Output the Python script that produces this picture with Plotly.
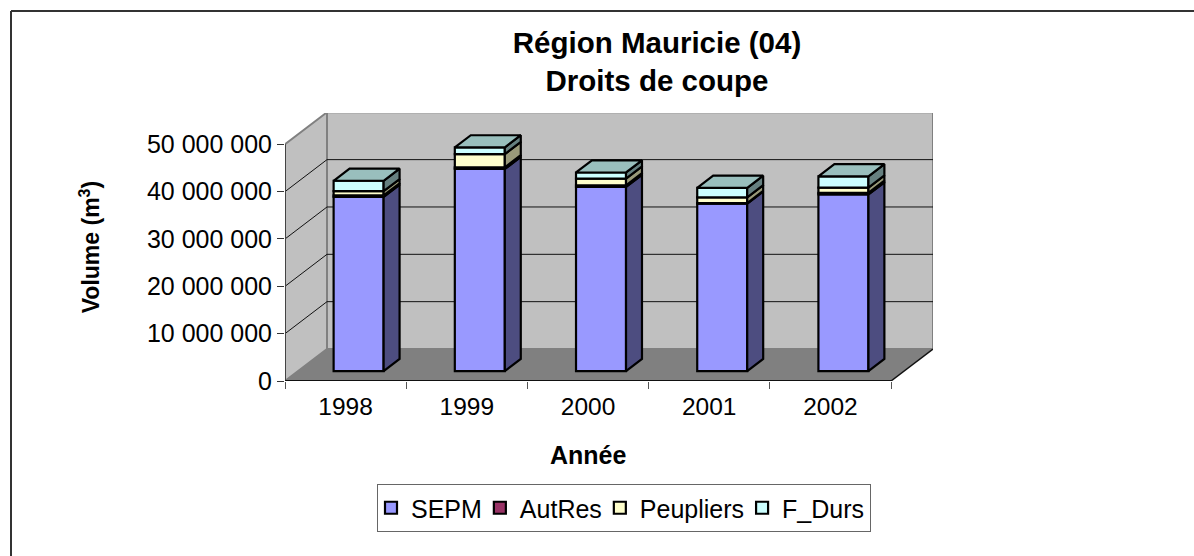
import plotly.graph_objects as go

years = ["1998", "1999", "2000", "2001", "2002"]
sepm = [36.8e6, 42.7e6, 38.9e6, 35.35e6, 37.3e6]
autres = [0.3e6, 0.35e6, 0.35e6, 0.15e6, 0.35e6]
peupliers = [0.9e6, 2.8e6, 1.4e6, 1.2e6, 1.1e6]
f_durs = [2.2e6, 1.4e6, 1.3e6, 2.0e6, 2.4e6]
y_ticks = [0, 10e6, 20e6, 30e6, 40e6, 50e6]
y_labels = ["0", "10 000 000", "20 000 000", "30 000 000", "40 000 000", "50 000 000"]
names = ["SEPM", "AutRes", "Peupliers", "F_Durs"]
front = ["#9999FF", "#993366", "#FFFFCC", "#CCFFFF"]
side = ["#4D4D80", "#4D1A33", "#999979", "#668080"]
top_color = "#99BFBD"

W, H = 1194, 556
X0, X1, Y0, YT = 285, 933, 381, 113      # plot rectangle, px
PX_CAT = 121.2
PX_VAL = 47.34 / 10e6
DX = 42 / PX_CAT
DY = 32 / PX_VAL
XMAX = (X1 - X0) / PX_CAT
YMAX = (Y0 - YT) / PX_VAL
D0, D1 = 0.31, 0.69
BAR_W = 50 / PX_CAT
EDGE = 2.2


def px(x):
    return x / W


def py(y):
    return 1 - y / H


def P(x, v, d):
    return x + d * DX, v + d * DY


n = len(years)
series = [sepm, autres, peupliers, f_durs]
fig = go.Figure()


def poly(pts, fill, line=None, w=0):
    path = "M" + "L".join(f"{a},{b}" for a, b in pts) + "Z"
    return dict(type="path", path=path, xref="x", yref="y", fillcolor=fill, layer="below",
                line=dict(color=line or fill, width=w))


def seg(a, b, color, w):
    return dict(type="line", x0=a[0], y0=a[1], x1=b[0], y1=b[1], xref="x", yref="y",
                layer="below", line=dict(color=color, width=w))


shapes = [
    poly([P(0, 0, 1), P(n, 0, 1), P(n, 50e6, 1), P(0, 50e6, 1)], "#C0C0C0", "#808080", 2),
    poly([P(0, 0, 0), P(0, 0, 1), P(0, 50e6, 1), P(0, 50e6, 0)], "#C0C0C0", "#808080", 2),
    poly([P(0, 0, 0), P(n, 0, 0), P(n, 0, 1), P(0, 0, 1)], "#808080"),
]
for v in y_ticks[1:-1]:
    shapes.append(seg(P(0, v, 0), P(0, v, 1), "#111111", 1))
    shapes.append(seg(P(0, v, 1), P(n, v, 1), "#111111", 1))
shapes.append(seg(P(0, 0, 0), P(0, 50e6, 0), "#444444", 2))
shapes.append(seg(P(0, 0, 0), P(n, 0, 0), "#111111", 2))
shapes.append(seg(P(n, 0, 0), P(n, 0, 1), "#111111", 1.5))

# frame, page coordinates
shapes.append(dict(type="line", xref="paper", yref="paper", x0=px(11), x1=px(W + 5), y0=py(11), y1=py(11),
                   line=dict(color="#333333", width=2)))
shapes.append(dict(type="line", xref="paper", yref="paper", x0=px(11), x1=px(11), y0=py(11), y1=py(H + 5),
                   line=dict(color="#333333", width=2)))

bases = [0.0] * n
for name, vals, fc, sc in zip(names, series, front, side):
    xs = [i + 0.5 + D0 * DX for i in range(n)]
    fig.add_trace(go.Bar(x=xs, y=vals, base=[b + D0 * DY for b in bases], width=BAR_W, name=name,
                         marker=dict(color=fc, line=dict(color="black", width=EDGE))))
    px_, py_ = [], []
    for i in range(n):
        xr = i + 0.5 + BAR_W / 2
        pts = [P(xr, bases[i], D0), P(xr, bases[i], D1),
               P(xr, bases[i] + vals[i], D1), P(xr, bases[i] + vals[i], D0), P(xr, bases[i], D0)]
        px_ += [p[0] for p in pts] + [None]
        py_ += [p[1] for p in pts] + [None]
    fig.add_trace(go.Scatter(x=px_, y=py_, mode="lines", fill="toself", fillcolor=sc, showlegend=False,
                             hoverinfo="skip", line=dict(color="black", width=EDGE)))
    bases = [b + v for b, v in zip(bases, vals)]

tx, ty = [], []
for i in range(n):
    xl, xr = i + 0.5 - BAR_W / 2, i + 0.5 + BAR_W / 2
    pts = [P(xl, bases[i], D0), P(xr, bases[i], D0), P(xr, bases[i], D1), P(xl, bases[i], D1), P(xl, bases[i], D0)]
    tx += [p[0] for p in pts] + [None]
    ty += [p[1] for p in pts] + [None]
fig.add_trace(go.Scatter(x=tx, y=ty, mode="lines", fill="toself", fillcolor=top_color, showlegend=False,
                         hoverinfo="skip", line=dict(color="black", width=EDGE)))

FONT = "Liberation Sans, Arial, sans-serif"
fig.update_layout(
    width=W, height=H, autosize=False, margin=dict(l=0, r=0, t=0, b=0, autoexpand=False),
    paper_bgcolor="white", plot_bgcolor="white", barmode="overlay", shapes=shapes,
    font=dict(family=FONT, color="black", size=24),
    title=dict(text="<b>Région Mauricie (04)<br>Droits de coupe</b>", x=657 / W, xanchor="center",
               y=1 - 53 / H, yanchor="top", font=dict(size=29.5)),
    xaxis=dict(domain=[X0 / W, X1 / W], range=[0, XMAX], tickmode="array",
               tickvals=[i + 0.5 for i in range(n)], ticktext=years, ticks="", showgrid=False, zeroline=False,
               tickfont=dict(size=24.5), fixedrange=True, automargin=False, ticklabelstandoff=8,
               minor=dict(tick0=0, dtick=1, ticks="outside", ticklen=7, tickcolor="#555555", tickwidth=1, showgrid=False)),
    yaxis=dict(domain=[1 - Y0 / H, 1 - YT / H], range=[0, YMAX], tickmode="array", tickvals=y_ticks,
               ticktext=y_labels, ticks="outside", ticklen=7, tickcolor="#333333", showgrid=False, zeroline=False,
               tickfont=dict(size=25), fixedrange=True, automargin=False,
               title=dict(text="<b>Volume (m<sup>3</sup>)</b>", font=dict(size=23), standoff=40)),
    legend=dict(orientation="h", x=px(377), y=py(484), xanchor="left", yanchor="top", bgcolor="white",
                bordercolor="#666666", borderwidth=1, font=dict(size=25), traceorder="normal", indentation=-7),
    annotations=[dict(text="<b>Année</b>", x=px(588), y=py(455), xref="paper", yref="paper",
                      showarrow=False, font=dict(size=25), yanchor="middle")],
)
fig.write_html("out.html", config={"displayModeBar": False}, post_script="document.body.style.margin='0';")
